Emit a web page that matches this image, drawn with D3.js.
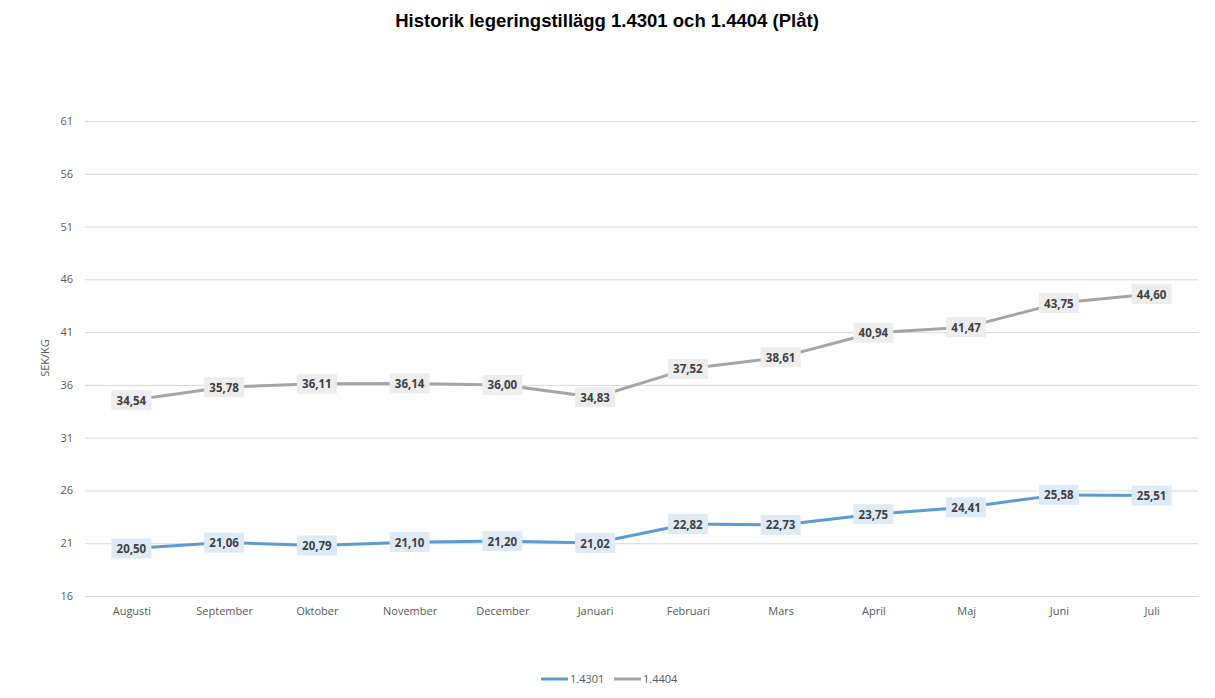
<!DOCTYPE html>
<html><head><meta charset="utf-8">
<script src="https://cdn.jsdelivr.net/npm/d3@7"></script>
<style>body{margin:0;background:#fff}svg{display:block}</style>
</head><body><svg id="c" width="1215" height="698"></svg>
<script>
const months = ["Augusti","September","Oktober","November","December","Januari","Februari","Mars","April","Maj","Juni","Juli"];
const s14301 = [20.50,21.06,20.79,21.10,21.20,21.02,22.82,22.73,23.75,24.41,25.58,25.51];
const s14404 = [34.54,35.78,36.11,36.14,36.00,34.83,37.52,38.61,40.94,41.47,43.75,44.60];
const yTicks = [16,21,26,31,36,41,46,51,56,61];
const seriesNames = ["1.4301","1.4404"];
const colors = ["#5B9BD5","#A5A5A5"];
const labelFills = ["#DEEBF7","#EDEDED"];

const svg = d3.select("#c");
const font = "'Open Sans', Calibri, sans-serif";
const x = d3.scalePoint().domain(months).range([85,1198]).padding(0.5);
const y = d3.scaleLinear().domain([16,61]).range([596,121]);

svg.append("text").attr("x",607).attr("y",27).attr("text-anchor","middle")
  .attr("font-family","Liberation Sans, Arial, sans-serif").attr("font-weight","bold").attr("font-size",18.5)
  .attr("fill","#000").text("Historik legeringstillägg 1.4301 och 1.4404 (Plåt)");

const gy = svg.append("g").attr("transform","translate(85,0)")
  .call(d3.axisLeft(y).tickValues(yTicks).tickSize(-1113).tickFormat(d3.format("d")));
gy.select(".domain").remove();
gy.selectAll(".tick line").attr("stroke","#D9D9D9").attr("stroke-width",1);
gy.selectAll(".tick text").attr("x",-12).attr("fill","#595959").attr("font-size",11).attr("font-family",font);

const gx = svg.append("g").attr("transform","translate(0,596)")
  .call(d3.axisBottom(x).tickSize(0));
gx.select(".domain").attr("stroke","#D9D9D9");
gx.selectAll(".tick text").attr("dy",0).attr("y",19).attr("fill","#595959").attr("font-size",11).attr("font-family",font);

svg.append("text").attr("transform","translate(49,358) rotate(-90)").attr("text-anchor","middle")
  .attr("font-family",font).attr("font-size",11).attr("fill","#595959").text("SEK/KG");

const data = [s14301, s14404];
const line = d3.line().x((d,i)=>x(months[i])).y(d=>y(d));
data.forEach((s,k)=>{
  svg.append("path").datum(s).attr("d",line).attr("fill","none")
    .attr("stroke",colors[k]).attr("stroke-width",3).attr("stroke-linejoin","round").attr("stroke-linecap","round");
});
const fmt = v => v.toFixed(2).replace(".",",");
data.forEach((s,k)=>{
  const g = svg.append("g");
  s.forEach((v,i)=>{
    const cx = x(months[i]), cy = y(v);
    g.append("rect").attr("x",cx-20).attr("y",cy-10).attr("width",40).attr("height",20).attr("fill",labelFills[k]);
    g.append("text").attr("x",cx).attr("y",cy+4.5).attr("text-anchor","middle")
      .attr("font-family",font).attr("font-weight","bold").attr("font-size",11.5).attr("fill","#404040").text(fmt(v));
  });
});

const legX = [541,614];
seriesNames.forEach((n,k)=>{
  svg.append("line").attr("x1",legX[k]).attr("x2",legX[k]+27).attr("y1",679).attr("y2",679)
    .attr("stroke",colors[k]).attr("stroke-width",3);
  svg.append("text").attr("x",legX[k]+29).attr("y",683).attr("font-family",font).attr("font-size",11)
    .attr("fill","#595959").text(n);
});
</script></body></html>
